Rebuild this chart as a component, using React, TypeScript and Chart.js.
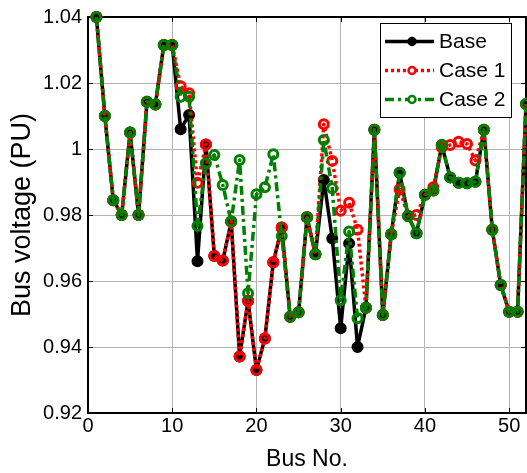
import React, { useEffect, useRef } from "react";
import { Chart, registerables } from "chart.js";

Chart.register(...registerables);

const busNumbers = [
  1, 2, 3, 4, 5, 6, 7, 8, 9, 10, 11, 12, 13, 14, 15, 16, 17, 18, 19, 20, 21, 22, 23, 24, 25, 26,
  27, 28, 29, 30, 31, 32, 33, 34, 35, 36, 37, 38, 39, 40, 41, 42, 43, 44, 45, 46, 47, 48, 49, 50, 51, 52,
];

const baseVoltage = [
  1.04, 1.01, 0.9845, 0.98, 1.005, 0.98, 1.0143, 1.0135, 1.0315, 1.0315,
  1.006, 1.0103, 0.966, 1.0014, 0.9676, 0.9662, 0.978, 0.9371, 0.954, 0.933,
  0.9426, 0.9657, 0.9762, 0.9492, 0.9505, 0.9793, 0.9681, 0.9906, 0.9729, 0.9457,
  0.9714, 0.94, 0.9519, 1.0058, 0.9497, 0.9742, 0.9928, 0.9797, 0.9745, 0.9861,
  0.9874, 1.0012, 0.9914, 0.9898, 0.9896, 0.9901, 1.0058, 0.9755, 0.9588, 0.9507,
  0.9507, 1.0136,
];

const case1Voltage = [
  1.04, 1.01, 0.9845, 0.98, 1.005, 0.98, 1.0143, 1.0135, 1.0315, 1.0315,
  1.019, 1.0169, 0.9898, 1.0014, 0.9676, 0.9662, 0.978, 0.9371, 0.954, 0.933,
  0.9426, 0.9657, 0.9762, 0.9492, 0.9505, 0.9793, 0.9681, 1.0075, 0.9964, 0.9813,
  0.9837, 0.9755, 0.9519, 1.0058, 0.9497, 0.9742, 0.9878, 0.9797, 0.98, 0.9861,
  0.9884, 1.0005, 1.0012, 1.0022, 1.0015, 0.9965, 1.0058, 0.9755, 0.9588, 0.9507,
  0.9507, 1.0136,
];

const case2Voltage = [
  1.04, 1.01, 0.9845, 0.98, 1.005, 0.98, 1.0143, 1.0135, 1.0315, 1.0315,
  1.0158, 1.0158, 0.9767, 0.9957, 0.9982, 0.9891, 0.978, 0.9967, 0.9563, 0.9863,
  0.9884, 0.9984, 0.9736, 0.9492, 0.9505, 0.9793, 0.9681, 1.0027, 0.9881, 0.9542,
  0.975, 0.9487, 0.9519, 1.0058, 0.9497, 0.9742, 0.9928, 0.9797, 0.9745, 0.9861,
  0.9874, 1.0012, 0.9914, 0.9898, 0.9896, 0.9901, 1.0058, 0.9755, 0.9588, 0.9507,
  0.9507, 1.0136,
];

const seriesNames = ["Base", "Case 1", "Case 2"];
const xTickValues = [0, 10, 20, 30, 40, 50];
const yTickValues = [0.92, 0.94, 0.96, 0.98, 1.0, 1.02, 1.04];

const FONT = "'Liberation Sans', Arial, Helvetica, sans-serif";

const toPoints = (ys: number[]) => busNumbers.map((b, i) => ({ x: b, y: ys[i] }));

const framePlugin = {
  id: "matlabFrame",
  beforeDatasetsDraw(chart: any) {
    const { ctx, chartArea } = chart;
    const { left, right, top, bottom } = chartArea;
    ctx.save();
    ctx.strokeStyle = "#000";
    ctx.lineWidth = 1;
    const xs = chart.scales.x;
    const ys = chart.scales.y;
    ctx.beginPath();
    xTickValues.forEach((v) => {
      const px = Math.round(xs.getPixelForValue(v)) + 0.5;
      ctx.moveTo(px, bottom);
      ctx.lineTo(px, bottom - 5);
      ctx.moveTo(px, top);
      ctx.lineTo(px, top + 5);
    });
    yTickValues.forEach((v) => {
      const py = Math.round(ys.getPixelForValue(v)) + 0.5;
      ctx.moveTo(left, py);
      ctx.lineTo(left + 5, py);
      ctx.moveTo(right, py);
      ctx.lineTo(right - 5, py);
    });
    ctx.stroke();
    ctx.lineWidth = 2;
    ctx.strokeRect(left, top, right - left, bottom - top);
    ctx.restore();
  },
};

const legendPlugin = {
  id: "matlabLegend",
  afterDraw(chart: any) {
    const { ctx, chartArea } = chart;
    const boxW = 131;
    const boxH = 94;
    const bx = chartArea.right - 15 - boxW;
    const by = chartArea.top + 6;
    ctx.save();
    ctx.fillStyle = "#fff";
    ctx.fillRect(bx, by, boxW, boxH);
    ctx.strokeStyle = "#000";
    ctx.lineWidth = 1;
    ctx.strokeRect(bx + 0.5, by + 0.5, boxW, boxH);
    chart.data.datasets.forEach((ds: any, i: number) => {
      const ry = by + 18.5 + i * 29;
      ctx.save();
      ctx.strokeStyle = ds.borderColor;
      ctx.lineWidth = ds.borderWidth;
      ctx.setLineDash(ds.borderDash || []);
      ctx.beginPath();
      ctx.moveTo(bx + 5, ry);
      ctx.lineTo(bx + 54, ry);
      ctx.stroke();
      ctx.setLineDash([]);
      ctx.beginPath();
      ctx.arc(bx + 32, ry, 3.5, 0, Math.PI * 2);
      if (ds.pointBackgroundColor !== "transparent") {
        ctx.fillStyle = ds.pointBackgroundColor;
      } else {
        ctx.fillStyle = "#fff";
      }
      ctx.fill();
      ctx.lineWidth = 2.5;
      ctx.strokeStyle = ds.pointBorderColor;
      ctx.stroke();
      ctx.restore();
      ctx.fillStyle = "#000";
      ctx.font = `21px ${FONT}`;
      ctx.textAlign = "left";
      ctx.textBaseline = "middle";
      ctx.fillText(ds.label, bx + 59, ry + 1);
    });
    ctx.restore();
  },
};

export default function App() {
  const canvasRef = useRef<HTMLCanvasElement | null>(null);

  useEffect(() => {
    if (!canvasRef.current) return;
    const common = {
      borderWidth: 3.5,
      borderJoinStyle: "round" as const,
      pointRadius: 4.5,
      pointBorderWidth: 3,
      clip: false,
    };
    const chart = new Chart(canvasRef.current, {
      type: "line",
      data: {
        datasets: [
          {
            ...common,
            label: seriesNames[0],
            data: toPoints(baseVoltage),
            borderColor: "#000000",
            pointBorderColor: "#000000",
            pointBackgroundColor: "#000000",
            order: 3,
          },
          {
            ...common,
            label: seriesNames[1],
            data: toPoints(case1Voltage),
            borderColor: "#ff0000",
            borderDash: [3, 3],
            pointBorderColor: "#ff0000",
            pointBackgroundColor: "transparent",
            order: 2,
          },
          {
            ...common,
            label: seriesNames[2],
            data: toPoints(case2Voltage),
            borderColor: "#008000",
            borderDash: [9, 4, 3, 4],
            pointBorderColor: "#008000",
            pointBackgroundColor: "transparent",
            order: 1,
          },
        ],
      },
      options: {
        animation: false,
        responsive: false,
        devicePixelRatio: 1,
        layout: { autoPadding: false, padding: { top: 17, right: 1, left: 0, bottom: 0 } },
        plugins: {
          legend: { display: false },
          tooltip: { enabled: false },
        },
        elements: { line: { tension: 0 } },
        scales: {
          x: {
            type: "linear",
            min: 0,
            max: 52,
            afterFit: (scale: any) => {
              scale.height = 60;
              scale.paddingLeft = 0;
              scale.paddingRight = 0;
            },
            afterBuildTicks: (scale: any) => {
              scale.ticks = xTickValues.map((v) => ({ value: v }));
            },
            ticks: {
              color: "#000",
              font: { family: FONT, size: 20 },
              padding: 1,
              maxRotation: 0,
              callback: (v: any) => String(v),
            },
            grid: { color: "#b4b4b4", lineWidth: 1, drawTicks: false },
            border: { display: false },
            title: {
              display: true,
              text: "Bus No.",
              color: "#000",
              font: { family: FONT, size: 23 },
              padding: { top: 0, bottom: 0 },
            },
          },
          y: {
            min: 0.92,
            max: 1.04,
            afterFit: (scale: any) => {
              scale.width = 88;
              scale.paddingTop = 0;
              scale.paddingBottom = 0;
            },
            afterBuildTicks: (scale: any) => {
              scale.ticks = yTickValues.map((v) => ({ value: v }));
            },
            ticks: {
              color: "#000",
              font: { family: FONT, size: 20 },
              padding: 6,
              callback: (v: any) => String(Number(Number(v).toFixed(2))),
            },
            grid: { color: "#b4b4b4", lineWidth: 1, drawTicks: false },
            border: { display: false },
            title: {
              display: true,
              text: "Bus voltage (PU)",
              color: "#000",
              font: { family: FONT, size: 27 },
              padding: { top: 6, bottom: 0 },
            },
          },
        },
      },
      plugins: [framePlugin, legendPlugin],
    });
    return () => chart.destroy();
  }, []);

  return (
    <div style={{ position: "fixed", left: 0, top: 0, width: 527, height: 473, background: "#fff" }}>
      <canvas ref={canvasRef} width={527} height={473} style={{ width: 527, height: 473, display: "block" }} />
    </div>
  );
}
